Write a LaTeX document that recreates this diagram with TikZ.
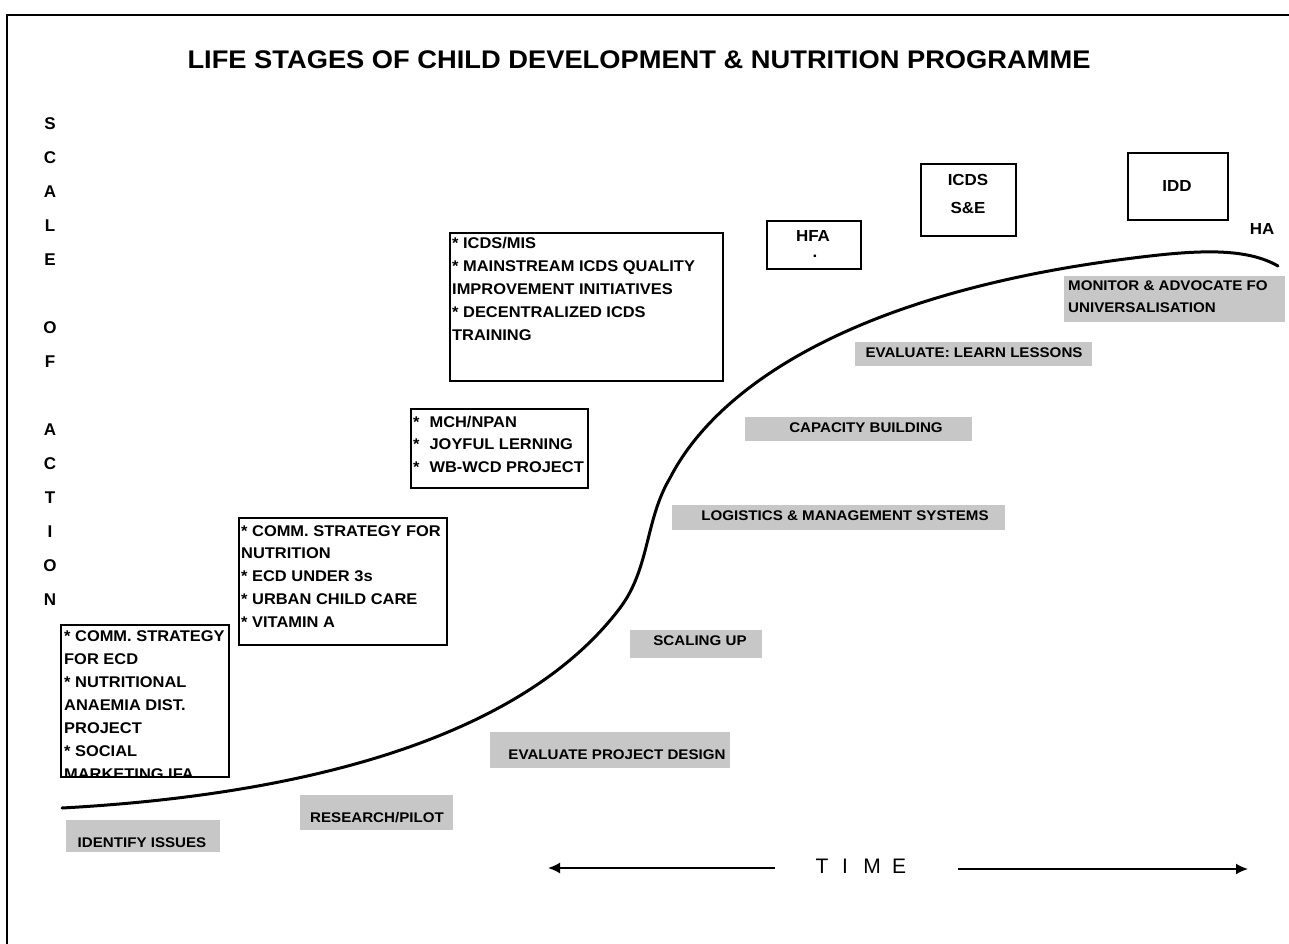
\documentclass[tikz,border=0pt]{standalone}
\usepackage{fontspec}
\setmainfont{Liberation Sans}
\newfontfamily\titlefont[FakeStretch=1.07]{Liberation Sans}
\newfontfamily\itemfont[FakeStretch=1.06]{Liberation Sans}
\newfontfamily\stagefont[FakeStretch=1.08]{Liberation Sans}
\usetikzlibrary{arrows.meta}
\begin{document}
\begin{tikzpicture}[x=1pt,y=-1pt,
  frameline/.style={line width=2pt},
  itembox/.style={draw, line width=1.6pt},
  itemtxt/.style={font=\itemfont\fontsize{15.5}{18}\selectfont\bfseries, anchor=base west, inner sep=0pt},
  labeltxt/.style={font=\itemfont\fontsize{16}{18}\selectfont\bfseries, inner sep=0pt},
  axisletter/.style={font=\fontsize{17}{18}\selectfont\bfseries, inner sep=0pt},
  haze/.style={fill=black!22},
  stagetxt/.style={font=\stagefont\fontsize{14}{16}\selectfont\bfseries, inner sep=0pt},
  timeletter/.style={font=\fontsize{21}{24}\selectfont, inner sep=0pt},
  timearrow/.style={line width=1.8pt, -{Latex[length=12pt,width=11pt]}},
  scurve/.style={line width=3pt, line cap=round}]
\useasboundingbox (0,0) rectangle (1289,944);

% page frame (top and left edges)
\draw[frameline] (7,944) -- (7,15) -- (1289,15);

% title
\node[font=\titlefont\fontsize{25.5}{28}\selectfont\bfseries, inner sep=0pt] (title) at (639,60)
  {LIFE STAGES OF CHILD DEVELOPMENT \& NUTRITION PROGRAMME};

% vertical axis label
\foreach \l/\yy in {S/124,C/158,A/192,L/226,E/260,O/328,F/362,A/430,C/464,T/498,I/532,O/566,N/600}
  \node[axisletter] (ax\yy) at (50,\yy) {\l};

% growth curve
\draw[scurve] (62,808) .. controls (300,795) and (520,740) .. (620,608)
  .. controls (650,568) and (645,520) .. (670,478)
  .. controls (715,390) and (850,290) .. (1150,256)
  .. controls (1210,249) and (1250,250) .. (1278,266);

% programme boxes
\node[itembox, anchor=north west, minimum width=168pt, minimum height=152pt] (box1) at (60,624) {};
\begin{scope}
  \clip (61,625) rectangle (227,775);
  \foreach \t [count=\i] in {{* COMM. STRATEGY},{FOR ECD},{* NUTRITIONAL},{ANAEMIA DIST.},{PROJECT},{* SOCIAL},{MARKETING IFA}}
    \node[itemtxt] (b1l\i) at (64,{641+23*(\i-1)}) {\t};
\end{scope}

\node[itembox, anchor=north west, minimum width=208pt, minimum height=127pt] (box2) at (238,517) {};
\foreach \t [count=\i] in {{* COMM. STRATEGY FOR},{NUTRITION},{* ECD UNDER 3s},{* URBAN CHILD CARE},{* VITAMIN A}}
  \node[itemtxt] (b2l\i) at (241,{536+22.8*(\i-1)}) {\t};

\node[itembox, anchor=north west, minimum width=273pt, minimum height=148pt] (box3) at (449,232) {};
\foreach \t [count=\i] in {{* ICDS/MIS},{* MAINSTREAM ICDS QUALITY},{IMPROVEMENT INITIATIVES},{* DECENTRALIZED ICDS},{TRAINING}}
  \node[itemtxt] (b3l\i) at (452,{248+23*(\i-1)}) {\t};

\node[itembox, anchor=north west, minimum width=177pt, minimum height=79pt] (box4) at (410,408) {};
\foreach \t [count=\i] in {{MCH/NPAN},{JOYFUL LERNING},{WB-WCD PROJECT}}
  \node[itemtxt] (b4l\i) at (413,{427+22.5*(\i-1)}) {*\hspace{10pt}\t};

% programme tags above the curve
\node[itembox, anchor=north west, minimum width=94pt, minimum height=48pt] (hfabox) at (766,220) {};
\node[labeltxt] (hfa) at (813,236) {HFA};
\node[labeltxt] (hfadot) at (815,256) {.};

\node[itembox, anchor=north west, minimum width=95pt, minimum height=72pt] (sebox) at (920,163) {};
\node[labeltxt] (icds) at (968,180) {ICDS};
\node[labeltxt] (se) at (968,208) {S\&E};

\node[itembox, anchor=north west, minimum width=100pt, minimum height=67pt] (iddbox) at (1127,152) {};
\node[labeltxt] (idd) at (1177,186) {IDD};

\node[labeltxt] (ha) at (1262,229) {HA};

% stages along the curve
\fill[haze] (66,820) rectangle (220,852);
\node[stagetxt] (st1) at (142,843) {IDENTIFY ISSUES};
\fill[haze] (300,795) rectangle (453,830);
\node[stagetxt] (st2) at (377,818) {RESEARCH/PILOT};
\fill[haze] (490,732) rectangle (730,768);
\node[stagetxt] (st3) at (617,755) {EVALUATE PROJECT DESIGN};
\fill[haze] (630,630) rectangle (762,658);
\node[stagetxt] (st4) at (700,641) {SCALING UP};
\fill[haze] (672,505) rectangle (1005,530);
\node[stagetxt] (st5) at (845,516) {LOGISTICS \& MANAGEMENT SYSTEMS};
\fill[haze] (745,417) rectangle (972,441);
\node[stagetxt] (st6) at (866,428) {CAPACITY BUILDING};
\fill[haze] (855,342) rectangle (1092,366);
\node[stagetxt] (st7) at (974,353) {EVALUATE: LEARN LESSONS};
\fill[haze] (1064,276) rectangle (1285,322);
\node[stagetxt, anchor=west] (st8a) at (1068,286) {MONITOR \& ADVOCATE FO};
\node[stagetxt, anchor=west] (st8b) at (1068,308) {UNIVERSALISATION};

% time axis
\node[timeletter] (timeT) at (822,866) {T};
\node[timeletter] (timeI) at (845,866) {I};
\node[timeletter] (timeM) at (872,866) {M};
\node[timeletter] (timeE) at (899,866) {E};
\coordinate (tlstart) at (775,868);
\coordinate (tlend) at (548,868);
\coordinate (trstart) at (958,869);
\coordinate (trend) at (1248,869);
\draw[timearrow] (tlstart) -- (tlend);
\draw[timearrow] (trstart) -- (trend);
\end{tikzpicture}
\end{document}
